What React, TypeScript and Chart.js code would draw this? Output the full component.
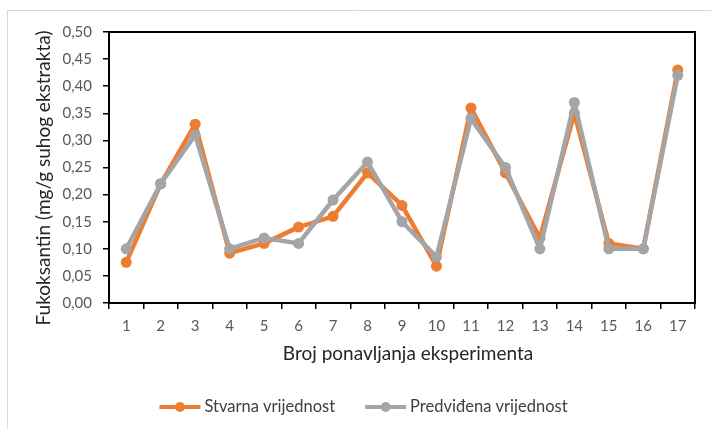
import React, { useEffect, useRef } from "react";
import { Chart, registerables } from "chart.js";

Chart.register(...registerables);

const categories = ["1", "2", "3", "4", "5", "6", "7", "8", "9", "10", "11", "12", "13", "14", "15", "16", "17"];
const actualValues = [0.075, 0.22, 0.33, 0.092, 0.11, 0.14, 0.16, 0.24, 0.18, 0.068, 0.36, 0.24, 0.12, 0.35, 0.11, 0.1, 0.43];
const predictedValues = [0.1, 0.22, 0.31, 0.1, 0.12, 0.11, 0.19, 0.26, 0.15, 0.085, 0.34, 0.25, 0.1, 0.37, 0.1, 0.1, 0.42];
const seriesNames = ["Stvarna vrijednost", "Predviđena vrijednost"];
const seriesColors = ["#ED7D31", "#A5A5A5"];
const xTitle = "Broj ponavljanja eksperimenta";
const yTitle = "Fukoksantin (mg/g suhog ekstrakta)";
const yMin = 0;
const yMax = 0.5;
const yStep = 0.05;

const FONT = "Lato, 'Open Sans', sans-serif";

const framePlugin = {
  id: "frame",
  beforeDraw(chart: any) {
    const ctx = chart.ctx;
    ctx.save();
    ctx.strokeStyle = "#D9D9D9";
    ctx.lineWidth = 1;
    ctx.beginPath();
    ctx.moveTo(7.5, chart.height);
    ctx.lineTo(7.5, 10.5);
    ctx.lineTo(chart.width, 10.5);
    ctx.stroke();
    ctx.restore();
  },
  afterDraw(chart: any) {
    const ctx = chart.ctx;
    const a = chart.chartArea;
    ctx.save();
    ctx.strokeStyle = "#000";
    ctx.lineWidth = 2;
    ctx.strokeRect(a.left, a.top, a.right - a.left, a.bottom - a.top);

    // axis titles
    ctx.fillStyle = "#262626";
    ctx.font = `19px ${FONT}`;
    ctx.textAlign = "center";
    ctx.textBaseline = "middle";
    ctx.fillText(xTitle, 408, 354);
    ctx.save();
    ctx.translate(44, 178);
    ctx.rotate(-Math.PI / 2);
    ctx.fillText(yTitle, 0, 0);
    ctx.restore();

    // legend
    ctx.font = `16.5px ${FONT}`;
    ctx.textBaseline = "middle";
    ctx.textAlign = "left";
    const sampleW = 41;
    const gapText = 4;
    const itemGap = 30;
    const widths = seriesNames.map((n) => sampleW + gapText + ctx.measureText(n).width);
    const total = widths.reduce((s, w) => s + w, 0) + itemGap * (seriesNames.length - 1);
    let x = 363.5 - total / 2;
    const y = 407;
    seriesNames.forEach((name, i) => {
      ctx.strokeStyle = seriesColors[i];
      ctx.fillStyle = seriesColors[i];
      ctx.lineWidth = 4;
      ctx.beginPath();
      ctx.moveTo(x, y);
      ctx.lineTo(x + sampleW, y);
      ctx.stroke();
      ctx.beginPath();
      ctx.arc(x + sampleW / 2, y, 5, 0, Math.PI * 2);
      ctx.fill();
      ctx.fillStyle = "#404040";
      ctx.fillText(name, x + sampleW + gapText, y);
      x += widths[i] + itemGap;
    });
    ctx.restore();
  },
};

export default function App() {
  const canvasRef = useRef<HTMLCanvasElement | null>(null);

  useEffect(() => {
    if (!canvasRef.current) return;
    const chart = new Chart(canvasRef.current, {
      type: "line",
      data: {
        labels: categories,
        datasets: [
          {
            label: seriesNames[0],
            data: actualValues,
            borderColor: seriesColors[0],
            backgroundColor: seriesColors[0],
            borderWidth: 4.5,
            borderJoinStyle: "round",
            borderCapStyle: "round",
            pointRadius: 5.5,
            pointBorderWidth: 0,
            pointBackgroundColor: seriesColors[0],
            order: 1,
            tension: 0,
          },
          {
            label: seriesNames[1],
            data: predictedValues,
            borderColor: seriesColors[1],
            backgroundColor: seriesColors[1],
            borderWidth: 4.5,
            borderJoinStyle: "round",
            borderCapStyle: "round",
            pointRadius: 5.5,
            pointBorderWidth: 0,
            pointBackgroundColor: seriesColors[1],
            order: 0,
            tension: 0,
          },
        ],
      },
      options: {
        responsive: false,
        animation: false,
        layout: { padding: { top: 32, right: 16, left: 35.4, bottom: 66.4 } },
        plugins: {
          legend: { display: false },
          tooltip: { enabled: false },
        },
        scales: {
          x: {
            type: "category",
            offset: true,
            grid: {
              offset: true,
              drawOnChartArea: false,
              drawTicks: true,
              tickLength: 6,
              color: "#000",
              lineWidth: 1.5,
            },
            border: { color: "#000", width: 2 },
            ticks: {
              color: "#595959",
              font: { family: FONT, size: 15 },
              padding: 8,
              maxRotation: 0,
              autoSkip: false,
            },
            title: { display: false, text: xTitle },
            afterFit(scale: any) {
              scale.height = 59.6;
            },
          },
          y: {
            min: yMin,
            max: yMax,
            grid: {
              drawOnChartArea: false,
              drawTicks: true,
              tickLength: 6,
              color: "#000",
              lineWidth: 1.5,
            },
            border: { color: "#000", width: 2 },
            ticks: {
              stepSize: yStep,
              color: "#595959",
              font: { family: FONT, size: 15 },
              padding: 11,
              callback: (v: any) => Number(v).toFixed(2).replace(".", ","),
            },
            title: { display: false, text: yTitle },
            afterFit(scale: any) {
              scale.width = 73.6;
            },
          },
        },
      },
      plugins: [framePlugin],
    });
    return () => chart.destroy();
  }, []);

  return (
    <div style={{ position: "absolute", left: 0, top: 0, width: 711, height: 429, background: "#fff" }}>
      <canvas ref={canvasRef} width={711} height={429} style={{ width: 711, height: 429, display: "block" }} />
    </div>
  );
}
